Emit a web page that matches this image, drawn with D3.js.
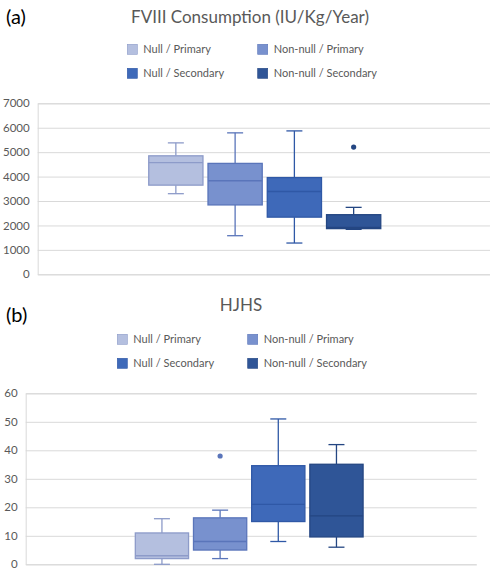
<!DOCTYPE html>
<html>
<head>
<meta charset="utf-8">
<script src="https://cdn.jsdelivr.net/npm/d3@7"></script>
<style>
  body { margin: 0; background: #fff; }
  text { font-family: Lato, "Open Sans", sans-serif; }
</style>
</head>
<body>
<div id="container"></div>
<script>
// series names shared by both panels
const seriesNames = ['Null / Primary', 'Non-null / Primary', 'Null / Secondary', 'Non-null / Secondary'];
const fills = ['#b4bfdf', '#7891ce', '#3e69b9', '#2f5597'];
const strokes = ['#8d9bc9', '#5a75ba', '#2f58a6', '#244682'];

// (a) FVIII consumption: [min, q1, median, q3, max]
const fviiiStats = [
  [3300, 3650, 4570, 4850, 5380],
  [1580, 2840, 3830, 4540, 5790],
  [1280, 2340, 3390, 3960, 5870],
  [1840, 1870, 1920, 2440, 2740]
];
const fviiiOutliers = [[], [], [], [5210]];
const fviiiTicks = [0, 1000, 2000, 3000, 4000, 5000, 6000, 7000];

// (b) HJHS: [min, q1, median, q3, max]
const hjhsStats = [
  [0, 2, 3, 11, 16],
  [2, 5, 8, 16.3, 19],
  [8, 15, 21, 34.6, 51],
  [6, 9.6, 17, 35.1, 42]
];
const hjhsOutliers = [[], [38], [], []];
const hjhsTicks = [0, 10, 20, 30, 40, 50, 60];

const W = 491, H = 573;
const svg = d3.select('#container').append('svg')
  .attr('width', W).attr('height', H);

const drawPanel = (cfg) => {
  const g = svg.append('g');

  g.append('text')
    .attr('x', 6).attr('y', cfg.tagY)
    .attr('font-size', 20).attr('fill', '#000')
    .attr('font-family', '"Liberation Sans", Arial, sans-serif')
    .text(cfg.tag);

  g.append('text')
    .attr('x', cfg.titleX).attr('y', cfg.titleY)
    .attr('text-anchor', 'middle')
    .attr('font-size', 17).attr('fill', '#595959')
    .text(cfg.title);

  // legend 2x2
  seriesNames.forEach((name, i) => {
    const col = i % 2, row = Math.floor(i / 2);
    const lx = cfg.legendX + col * 130.4;
    const ly = cfg.legendY + row * 24;
    g.append('rect')
      .attr('x', lx).attr('y', ly - 5)
      .attr('width', 10).attr('height', 10)
      .attr('fill', fills[i]).attr('stroke', strokes[i]).attr('stroke-width', 0.6);
    g.append('text')
      .attr('x', lx + 16).attr('y', ly + 4)
      .attr('font-size', 11).attr('fill', '#595959')
      .text(name);
  });

  const y = d3.scaleLinear()
    .domain([0, d3.max(cfg.ticks)])
    .range([cfg.bottom, cfg.top]);

  const outer = d3.scaleBand().domain(['']).range([cfg.left, cfg.right]);
  const groupW = outer.bandwidth() * cfg.groupFrac;
  const cx = outer('') + outer.bandwidth() / 2 + cfg.shift;
  const x = d3.scaleBand()
    .domain(d3.range(seriesNames.length))
    .range([cx - groupW / 2, cx + groupW / 2])
    .paddingInner(0.085);

  // gridlines
  const yAxis = d3.axisLeft(y).tickValues(cfg.ticks)
    .tickFormat(d3.format('d'))
    .tickSize(-(cfg.right - cfg.left)).tickPadding(8);
  const ax = g.append('g')
    .attr('transform', `translate(${cfg.left},0)`)
    .call(yAxis);
  ax.select('.domain').attr('stroke', '#d9d9d9');
  ax.selectAll('.tick line').attr('stroke', '#d9d9d9');
  ax.selectAll('.tick text')
    .attr('font-size', 11.5).attr('fill', '#595959')
    .attr('font-family', 'Lato, "Open Sans", sans-serif');

  const bw = x.bandwidth();
  cfg.stats.forEach((s, i) => {
    const [mn, q1, md, q3, mx] = s;
    const x0 = x(i), xc = x0 + bw / 2;
    const bg = g.append('g');
    // whiskers
    bg.append('line').attr('x1', xc).attr('x2', xc)
      .attr('y1', y(q3)).attr('y2', y(mx))
      .attr('stroke', strokes[i]).attr('stroke-width', 1.3);
    bg.append('line').attr('x1', xc).attr('x2', xc)
      .attr('y1', y(q1)).attr('y2', y(mn))
      .attr('stroke', strokes[i]).attr('stroke-width', 1.3);
    [mn, mx].forEach(v => {
      bg.append('line').attr('x1', xc - 8).attr('x2', xc + 8)
        .attr('y1', y(v)).attr('y2', y(v))
        .attr('stroke', strokes[i]).attr('stroke-width', 1.3);
    });
    bg.append('rect')
      .attr('x', x0).attr('y', y(q3))
      .attr('width', bw).attr('height', y(q1) - y(q3))
      .attr('fill', fills[i]).attr('stroke', strokes[i]).attr('stroke-width', 1.3);
    bg.append('line').attr('x1', x0).attr('x2', x0 + bw)
      .attr('y1', y(md)).attr('y2', y(md))
      .attr('stroke', strokes[i]).attr('stroke-width', 1.3);
    cfg.outliers[i].forEach(v => {
      bg.append('circle').attr('cx', xc).attr('cy', y(v)).attr('r', 2.6)
        .attr('fill', strokes[i]);
    });
  });
};

drawPanel({
  tag: '(a)', tagY: 24, title: 'FVIII Consumption (IU/Kg/Year)', titleX: 250, titleY: 23,
  legendX: 127.3, legendY: 49.3,
  left: 37.7, right: 490, top: 103.3, bottom: 274.3,
  groupFrac: 0.513, shift: 0.9,
  ticks: fviiiTicks, stats: fviiiStats, outliers: fviiiOutliers
});

drawPanel({
  tag: '(b)', tagY: 322, title: 'HJHS', titleX: 241, titleY: 311,
  legendX: 117.3, legendY: 339.3,
  left: 25.7, right: 476.7, top: 393.3, bottom: 564.3,
  groupFrac: 0.505, shift: -2,
  ticks: hjhsTicks, stats: hjhsStats, outliers: hjhsOutliers
});
</script>
</body>
</html>
